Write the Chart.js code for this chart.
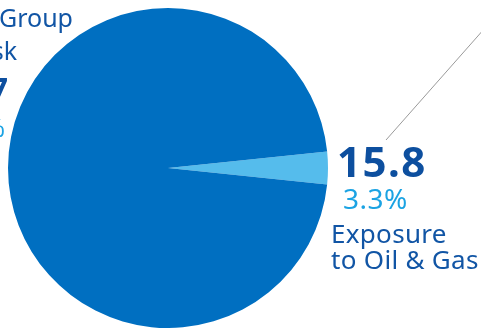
<!DOCTYPE html>
<html>
<head>
<meta charset="utf-8">
<script src="https://cdn.jsdelivr.net/npm/chart.js@4"></script>
<style>
  html, body { margin: 0; padding: 0; background: #fff; }
  #wrap { width: 481px; height: 328px; position: relative; }
</style>
</head>
<body>
<div id="wrap"><canvas id="pie"></canvas></div>
<script>
// values
let sliceLabels = ['Exposure to Oil & Gas', 'Other credit risk'];
let sliceValues = [15.8, 462.9];
let sliceColors = ['#55bcec', '#006fc1'];

let totalLabel = ['Total Group', 'Credit Risk'];
let totalValue = '478.7';
let totalShare = '100%';
let oilLabel = ['Exposure', 'to Oil & Gas'];
let oilValue = '15.8';
let oilShare = '3.3%';

let total = sliceValues.reduce((a, b) => a + b, 0);
// centre the small slice on 3 o'clock
let rotation = 90 - (sliceValues[0] / total) * 360 / 2;

const labelsPlugin = {
  id: 'labels',
  afterDraw(chart) {
    let ctx = chart.ctx;
    ctx.save();

    // leader line
    ctx.strokeStyle = '#9a9a9a';
    ctx.lineWidth = 1;
    ctx.beginPath();
    ctx.moveTo(386, 140);
    ctx.lineTo(500, 11);
    ctx.stroke();

    ctx.textBaseline = 'alphabetic';
    ctx.textAlign = 'left';
    ctx.fillStyle = '#0d4f9f';
    ctx.font = 'bold 42px "Noto Sans"';
    ctx.letterSpacing = '1.5px';
    ctx.fillText(oilValue, 337, 177);
    ctx.fillStyle = '#1ba3e3';
    ctx.font = '28px "Noto Sans"';
    ctx.letterSpacing = '0.5px';
    ctx.fillText(oilShare, 343, 209);
    ctx.fillStyle = '#1155a5';
    ctx.font = '26px "Noto Sans"';
    ctx.letterSpacing = '0.3px';
    ctx.fillText(oilLabel[0], 331, 243);
    ctx.fillText(oilLabel[1], 331, 269);

    // left label, mostly cut off by the edge
    ctx.textAlign = 'right';
    ctx.letterSpacing = '0px';
    ctx.fillStyle = '#1155a5';
    ctx.font = '25px "Noto Sans"';
    ctx.fillText(totalLabel[0], 73, 27);
    ctx.fillText(totalLabel[1], 17, 60);
    ctx.fillStyle = '#0d4f9f';
    ctx.font = 'bold 31px "Noto Sans"';
    ctx.fillText(totalValue, 8, 100);
    ctx.fillStyle = '#1ba3e3';
    ctx.font = '25px "Noto Sans"';
    ctx.fillText(totalShare, 5, 137);

    ctx.restore();
  }
};

new Chart(document.getElementById('pie'), {
  type: 'pie',
  data: {
    labels: sliceLabels,
    datasets: [{
      data: sliceValues,
      backgroundColor: sliceColors,
      borderWidth: 0
    }]
  },
  options: {
    responsive: true,
    maintainAspectRatio: false,
    animation: false,
    rotation: rotation,
    layout: { padding: { left: 8, right: 153, top: 8, bottom: 0 } },
    plugins: {
      legend: { display: false },
      tooltip: { enabled: false }
    }
  },
  plugins: [labelsPlugin]
});
</script>
</body>
</html>
